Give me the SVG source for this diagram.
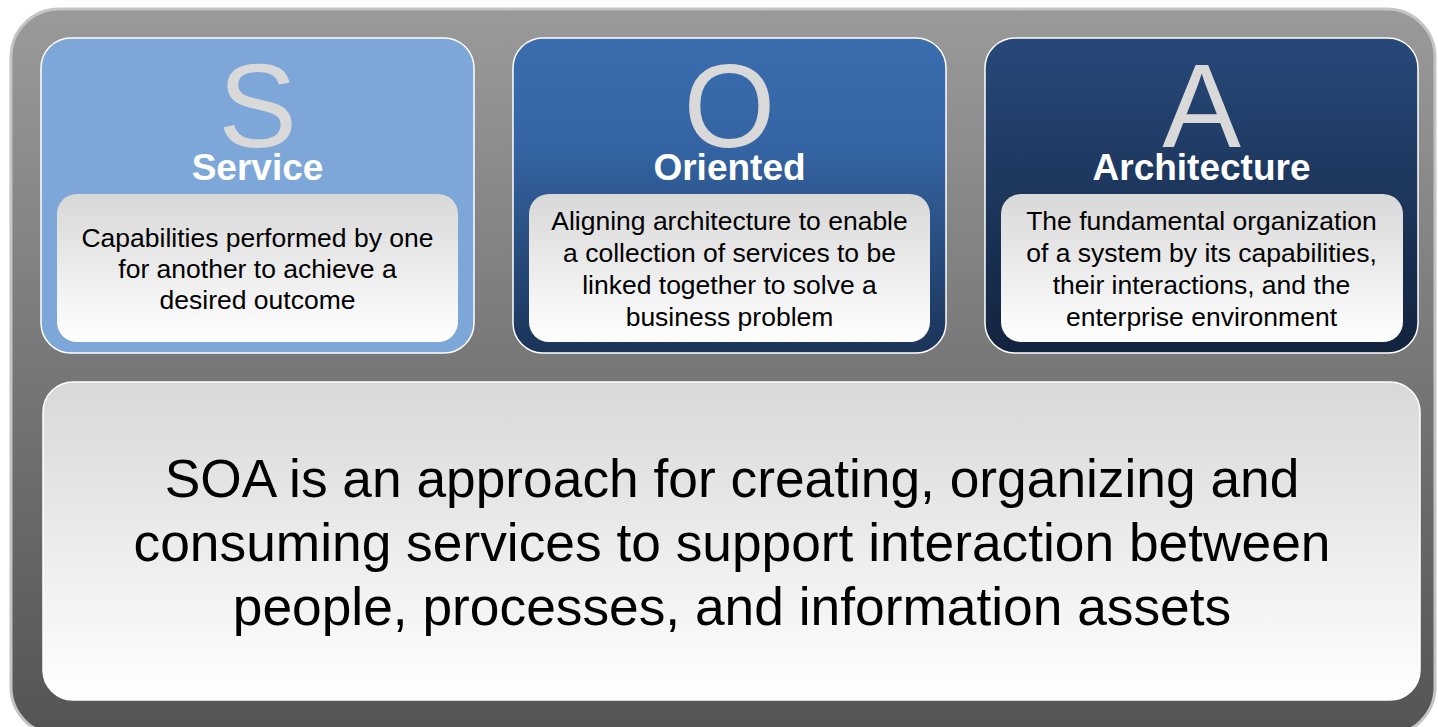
<svg xmlns="http://www.w3.org/2000/svg" width="1438" height="727" viewBox="0 0 1438 727">
<defs>
<linearGradient id="gOuter" x1="0" y1="0" x2="0" y2="1"><stop offset="0" stop-color="#9a9a9a"/><stop offset="1" stop-color="#545454"/></linearGradient>
<linearGradient id="gO" x1="0" y1="0" x2="0" y2="1"><stop offset="0" stop-color="#3b6daf"/><stop offset="0.35" stop-color="#3464a3"/><stop offset="1" stop-color="#1b3459"/></linearGradient>
<linearGradient id="gA" x1="0" y1="0" x2="0" y2="1"><stop offset="0" stop-color="#27497a"/><stop offset="1" stop-color="#12233e"/></linearGradient>
<linearGradient id="gInner" x1="0" y1="0" x2="0" y2="1"><stop offset="0" stop-color="#d8d8d8"/><stop offset="1" stop-color="#ffffff"/></linearGradient>
</defs>
<style>
.big{font-family:"Liberation Sans",Arial,sans-serif;font-size:118px;fill:#d9d9d9;text-anchor:middle}
.head{font-family:"Liberation Sans",Arial,sans-serif;font-size:37px;font-weight:bold;fill:#ffffff;text-anchor:middle}
.desc{font-family:"Liberation Sans",Arial,sans-serif;font-size:26.5px;fill:#000000;text-anchor:middle}
.main{font-family:"Liberation Sans",Arial,sans-serif;font-size:53.3px;fill:#000000;text-anchor:middle}
.card{stroke:#ffffff;stroke-width:1.5}
.inner{fill:url(#gInner)}
</style>
<rect x="11" y="9" width="1424" height="726" rx="48" fill="url(#gOuter)" stroke="#c4c4c4" stroke-width="3"/>
<g id="service">
<rect class="card" x="41" y="38" width="433" height="315" rx="30" fill="#7ea7d9"/>
<text class="big" x="257.5" y="147">S</text>
<text class="head" x="257.5" y="180">Service</text>
<rect class="inner" x="57" y="194" width="401" height="148" rx="20"/>
<text class="desc" x="257.5" y="247">Capabilities performed by one</text>
<text class="desc" x="257.5" y="278">for another to achieve a</text>
<text class="desc" x="257.5" y="309">desired outcome</text>
</g>
<g id="oriented">
<rect class="card" x="513" y="38" width="433" height="315" rx="30" fill="url(#gO)"/>
<text class="big" x="729.5" y="147">O</text>
<text class="head" x="729.5" y="180">Oriented</text>
<rect class="inner" x="529" y="194" width="401" height="148" rx="20"/>
<text class="desc" x="729.5" y="230">Aligning architecture to enable</text>
<text class="desc" x="729.5" y="262">a collection of services to be</text>
<text class="desc" x="729.5" y="294">linked together to solve a</text>
<text class="desc" x="729.5" y="326">business problem</text>
</g>
<g id="architecture">
<rect class="card" x="985" y="38" width="433" height="315" rx="30" fill="url(#gA)"/>
<text class="big" x="1201.5" y="147">A</text>
<text class="head" x="1201.5" y="180">Architecture</text>
<rect class="inner" x="1001" y="194" width="402" height="148" rx="20"/>
<text class="desc" x="1201.5" y="230">The fundamental organization</text>
<text class="desc" x="1201.5" y="262">of a system by its capabilities,</text>
<text class="desc" x="1201.5" y="294">their interactions, and the</text>
<text class="desc" x="1201.5" y="326">enterprise environment</text>
</g>
<g id="soa">
<rect class="card" x="43" y="382" width="1377" height="318" rx="30" fill="url(#gInner)"/>
<text class="main" x="732" y="497">SOA is an approach for creating, organizing and</text>
<text class="main" x="732" y="561">consuming services to support interaction between</text>
<text class="main" x="732" y="625">people, processes, and information assets</text>
</g>
<g id="connectors"/>
</svg>
